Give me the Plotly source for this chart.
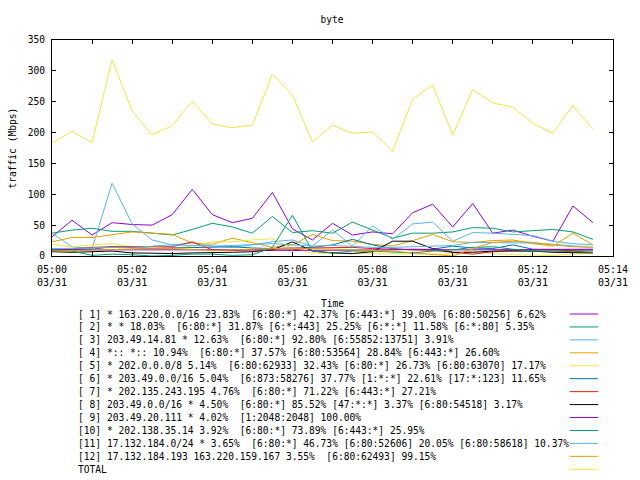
import plotly.graph_objects as go

# ---------------- data ----------------
times = ["2008-03-31 05:00:00", "2008-03-31 05:00:30", "2008-03-31 05:01:00", "2008-03-31 05:01:30",
         "2008-03-31 05:02:00", "2008-03-31 05:02:30", "2008-03-31 05:03:00", "2008-03-31 05:03:30",
         "2008-03-31 05:04:00", "2008-03-31 05:04:30", "2008-03-31 05:05:00", "2008-03-31 05:05:30",
         "2008-03-31 05:06:00", "2008-03-31 05:06:30", "2008-03-31 05:07:00", "2008-03-31 05:07:30",
         "2008-03-31 05:08:00", "2008-03-31 05:08:30", "2008-03-31 05:09:00", "2008-03-31 05:09:30",
         "2008-03-31 05:10:00", "2008-03-31 05:10:30", "2008-03-31 05:11:00", "2008-03-31 05:11:30",
         "2008-03-31 05:12:00", "2008-03-31 05:12:30", "2008-03-31 05:13:00", "2008-03-31 05:13:30"]

s1 = [31, 58, 34, 54, 51, 50, 67, 108, 67, 54, 61, 103, 44, 26, 53, 34, 39, 36, 70, 84, 47, 85, 37, 42, 32, 24, 81, 54]
s2 = [37, 42, 45, 40, 40, 37, 34, 43, 53, 47, 37, 64, 38, 41, 37, 55, 42, 29, 37, 37, 39, 46, 45, 39, 41, 43, 39, 27]
s3 = [37, 15, 12, 118, 52, 26, 18, 21, 16, 14, 18, 23, 26, 16, 42, 16, 49, 27, 52, 55, 24, 38, 37, 35, 33, 24, 20, 18]
s4 = [23, 30, 30, 34, 39, 37, 35, 21, 19, 29, 22, 14, 18, 35, 25, 24, 19, 16, 25, 35, 23, 22, 25, 26, 20, 16, 37, 18]
s5 = [19, 15, 18, 20, 15, 13, 13, 16, 23, 23, 26, 28, 12, 5, 4, 4, 4, 4, 3, 3, 3, 8, 4, 2, 1, 1, 3, 4]
s6 = [10, 11, 11, 15, 13, 12, 13, 14, 14, 15, 13, 12, 13, 14, 18, 27, 18, 12, 10, 11, 16, 13, 12, 18, 11, 11, 11, 10]
s7 = [9, 12, 14, 15, 15, 14, 15, 23, 10, 9, 10, 9, 10, 13, 14, 14, 12, 11, 10, 9, 6, 3, 7, 9, 8, 8, 9, 10]
s8 = [7, 6, 7, 8, 5, 4, 4, 5, 5, 6, 7, 10, 23, 8, 5, 4, 7, 24, 24, 12, 6, 6, 8, 8, 8, 6, 5, 5]
s9 = [10, 10, 10, 11, 11, 10, 10, 10, 10, 10, 10, 10, 9, 9, 10, 10, 10, 10, 11, 10, 10, 10, 10, 10, 10, 10, 11, 11]
s10 = [10, 8, 1, 3, 2, 0, 1, 3, 3, 1, 2, 14, 66, 8, 5, 8, 8, 6, 5, 8, 10, 14, 15, 11, 8, 8, 7, 8]
s11 = [12, 12, 13, 14, 13, 16, 18, 17, 16, 17, 18, 20, 18, 16, 17, 15, 14, 14, 15, 16, 17, 22, 22, 22, 21, 19, 17, 14]
s12 = [8, 9, 10, 11, 12, 12, 12, 10, 9, 10, 11, 12, 13, 12, 11, 10, 9, 8, 5, 2, 0, 12, 22, 24, 22, 18, 15, 14]
total = [183, 202, 184, 318, 235, 196, 211, 251, 214, 208, 212, 295, 261, 185, 212, 199, 201, 170, 254, 277, 196, 270, 248, 241, 215, 199, 244, 205]

series = [s1, s2, s3, s4, s5, s6, s7, s8, s9, s10, s11, s12, total]

labels = [
    "[ 1] * 163.220.0.0/16 23.83%  [6:80:*] 42.37% [6:443:*] 39.00% [6:80:50256] 6.62%",
    "[ 2] * * 18.03%  [6:80:*] 31.87% [6:*:443] 25.25% [6:*:*] 11.58% [6:*:80] 5.35%",
    "[ 3] 203.49.14.81 * 12.63%  [6:80:*] 92.80% [6:55852:13751] 3.91%",
    "[ 4] *:: *:: 10.94%  [6:80:*] 37.57% [6:80:53564] 28.84% [6:443:*] 26.60%",
    "[ 5] * 202.0.0.0/8 5.14%  [6:80:62933] 32.43% [6:80:*] 26.73% [6:80:63070] 17.17%",
    "[ 6] * 203.49.0.0/16 5.04%  [6:873:58276] 37.77% [1:*:*] 22.61% [17:*:123] 11.65%",
    "[ 7] * 202.135.243.195 4.76%  [6:80:*] 71.22% [6:443:*] 27.21%",
    "[ 8] 203.49.0.0/16 * 4.50%  [6:80:*] 85.52% [47:*:*] 3.37% [6:80:54518] 3.17%",
    "[ 9] 203.49.20.111 * 4.02%  [1:2048:2048] 100.00%",
    "[10] * 202.138.35.14 3.92%  [6:80:*] 73.89% [6:443:*] 25.95%",
    "[11] 17.132.184.0/24 * 3.65%  [6:80:*] 46.73% [6:80:52606] 20.05% [6:80:58618] 10.37%",
    "[12] 17.132.184.193 163.220.159.167 3.55%  [6:80:62493] 99.15%",
    "TOTAL",
]

colors = ["#9400d3", "#009e73", "#56b4e9", "#e69f00", "#f0e442", "#0072b2", "#e51e10",
          "#000000", "#9400d3", "#009e73", "#56b4e9", "#e69f00", "#f0e442"]

title = "byte"
x_title = "Time"
y_title = "traffic (Mbps)"
y_ticks = [0, 50, 100, 150, 200, 250, 300, 350]

# ---------------- layout geometry (pixels) ----------------
W, H = 640, 480
L, R, T, B = 52, 19, 40, 224
PW, PH = W - L - R, H - T - B
FONT = "DejaVu Sans Mono"
FS = 9.6


def px_x(px):
    return (px - L) / PW


def px_y(py):
    return (H - B - py) / PH


fig = go.Figure()
for ser, col, lab in zip(series, colors, labels):
    fig.add_trace(go.Scatter(x=times, y=ser, mode="lines", name=lab,
                             line=dict(color=col, width=1), showlegend=False))

annotations = []
shapes = []
y0 = 314.0
step = 12.94
for k, (lab, col) in enumerate(zip(labels, colors)):
    yc = y0 + step * k
    annotations.append(dict(text=lab.replace(" ", "\u00a0"), x=px_x(76), y=px_y(yc),
                            xref="paper", yref="paper", xanchor="left", yanchor="middle",
                            showarrow=False, font=dict(family=FONT, size=FS, color="black")))
    shapes.append(dict(type="line", xref="paper", yref="paper", x0=px_x(577), x1=px_x(606),
                       y0=px_y(yc), y1=px_y(yc), line=dict(color=col, width=1)))

annotations.append(dict(text=x_title, x=px_x(336), y=px_y(303), xref="paper", yref="paper",
                        xanchor="center", yanchor="middle", showarrow=False,
                        font=dict(family=FONT, size=FS, color="black")))
annotations.append(dict(text=y_title, x=px_x(11), y=0.5, xref="paper", yref="paper",
                        xanchor="center", yanchor="middle", showarrow=False, textangle=-90,
                        font=dict(family=FONT, size=FS, color="black")))

fig.update_layout(
    width=W, height=H,
    margin=dict(l=L, r=R, t=T, b=B, pad=0),
    paper_bgcolor="white", plot_bgcolor="white",
    title=dict(text=title, x=px_x(336), xref="paper", xanchor="center",
               y=1 - 20 / H, yref="container", yanchor="middle",
               font=dict(family=FONT, size=FS, color="black")),
    font=dict(family=FONT, size=FS, color="black"),
    annotations=annotations,
    shapes=shapes,
    showlegend=False,
)

fig.update_xaxes(
    type="date",
    range=["2008-03-31 05:00:00", "2008-03-31 05:14:00"],
    tick0="2008-03-31 05:00:00", dtick=120000,
    tickformat="%H:%M<br>%m/%d",
    ticks="inside", ticklen=4, tickcolor="black", tickwidth=1,
    minor=dict(dtick=60000, ticks="inside", ticklen=4, tickcolor="black", tickwidth=1, showgrid=False),
    showline=True, linecolor="black", linewidth=1, mirror="ticks",
    showgrid=False, zeroline=False,
    ticklabelstandoff=4,
    tickfont=dict(family=FONT, size=10, color="black"),
)
fig.update_yaxes(
    range=[0, 350], tickvals=y_ticks,
    ticks="inside", ticklen=4, tickcolor="black", tickwidth=1,
    showline=True, linecolor="black", linewidth=1, mirror="ticks",
    showgrid=False, zeroline=False,
    ticklabelstandoff=4,
    tickfont=dict(family=FONT, size=FS, color="black"),
)

fig.write_html("out.html")
